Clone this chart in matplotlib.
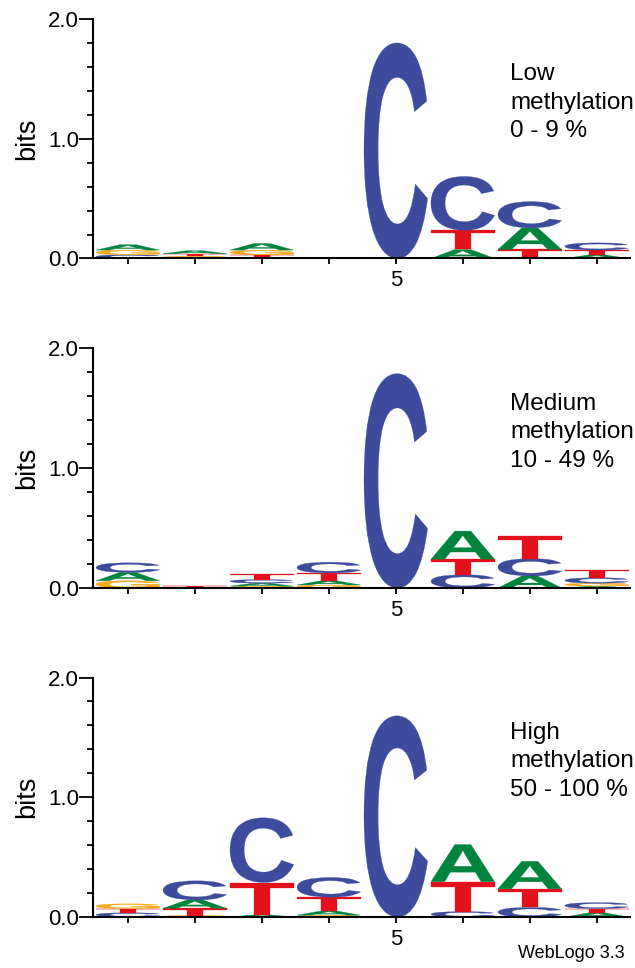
import matplotlib
matplotlib.use('Agg')
import matplotlib.pyplot as plt
from matplotlib.textpath import TextPath
from matplotlib.patches import PathPatch
from matplotlib.font_manager import FontProperties
from matplotlib.transforms import Affine2D

plt.rcParams['font.family'] = ['Liberation Sans', 'DejaVu Sans']

positions = [1, 2, 3, 4, 5, 6, 7, 8]

# letter stacks, bottom to top, heights in bits
low = [
    [('C', 0.03), ('G', 0.04), ('A', 0.045)],
    [('G', 0.02), ('T', 0.02), ('A', 0.025)],
    [('T', 0.03), ('G', 0.04), ('A', 0.055)],
    [],
    [('C', 1.80)],
    [('A', 0.075), ('T', 0.16), ('C', 0.45)],
    [('T', 0.075), ('A', 0.18), ('C', 0.22)],
    [('A', 0.03), ('T', 0.04), ('C', 0.06)],
]
medium = [
    [('G', 0.06), ('A', 0.07), ('C', 0.08)],
    [('T', 0.015)],
    [('G', 0.015), ('A', 0.025), ('C', 0.03), ('T', 0.05)],
    [('G', 0.025), ('A', 0.035), ('T', 0.065), ('C', 0.09)],
    [('C', 1.79)],
    [('C', 0.11), ('T', 0.13), ('A', 0.235)],
    [('A', 0.1), ('C', 0.145), ('T', 0.19)],
    [('A', 0.015), ('G', 0.025), ('C', 0.045), ('T', 0.065)],
]
high = [
    [('C', 0.035), ('T', 0.035), ('G', 0.04)],
    [('G', 0.012), ('T', 0.06), ('A', 0.07), ('C', 0.16)],
    [('A', 0.018), ('T', 0.27), ('C', 0.54)],
    [('G', 0.015), ('A', 0.035), ('T', 0.115), ('C', 0.165)],
    [('C', 1.68)],
    [('C', 0.045), ('T', 0.25), ('A', 0.31)],
    [('C', 0.08), ('T', 0.155), ('A', 0.23)],
    [('A', 0.035), ('T', 0.035), ('C', 0.05)],
]

panels = [low, medium, high]
labels = ['Low\nmethylation\n0 - 9 %',
          'Medium\nmethylation\n10 - 49 %',
          'High\nmethylation\n50 - 100 %']

colors = {'A': '#00843D', 'C': '#3D4B9C', 'G': '#F7A91B', 'T': '#E2111B'}
glyph_font = FontProperties(family='Liberation Sans', weight='bold')


def draw_letter(ax, ch, x, y0, h, w=0.95):
    tp = TextPath((0, 0), ch, size=1, prop=glyph_font)
    bb = tp.get_extents()
    t = (Affine2D().translate(-bb.x0, -bb.y0)
         .scale(w / bb.width, h / bb.height)
         .translate(x - w / 2, y0))
    ax.add_patch(PathPatch(t.transform_path(tp), fc=colors[ch],
                           ec=colors[ch], lw=0.2))


fig = plt.figure(figsize=(6.35, 9.68), dpi=100)
bottoms = [0.733, 0.3926, 0.0527]

for stacks, label, b in zip(panels, labels, bottoms):
    ax = fig.add_axes([0.1465, b, 0.846, 0.2474])
    for x, stack in zip(positions, stacks):
        y = 0
        for ch, h in stack:
            draw_letter(ax, ch, x, y, h)
            y += h
    ax.set_xlim(0.48, 8.5)
    ax.set_ylim(0, 2.0)
    for s in ['top', 'right']:
        ax.spines[s].set_visible(False)
    ax.spines['left'].set_linewidth(1.5)
    ax.spines['bottom'].set_linewidth(1.5)
    ax.set_yticks([0, 1.0, 2.0])
    ax.set_yticklabels(['0.0', '1.0', '2.0'], fontsize=16)
    ax.set_yticks([0.2, 0.4, 0.6, 0.8, 1.2, 1.4, 1.6, 1.8], minor=True)
    ax.tick_params(axis='y', which='major', length=10, width=1.3, pad=0)
    ax.tick_params(axis='y', which='minor', length=4.5, width=1.3)
    ax.set_xticks(positions)
    ax.set_xticklabels(['' if p != 5 else '5' for p in positions], fontsize=16)
    ax.tick_params(axis='x', length=4.5, width=1.3, pad=4)
    ax.set_ylabel('bits', fontsize=19.5, labelpad=6)
    ax.text(0.777, 0.815, label, transform=ax.transAxes, fontsize=17.5,
            va='top', ha='left', linespacing=1.38)

fig.text(0.984, 0.006, 'WebLogo 3.3', fontsize=13, ha='right', va='bottom')

fig.savefig('out.png', dpi=100)
